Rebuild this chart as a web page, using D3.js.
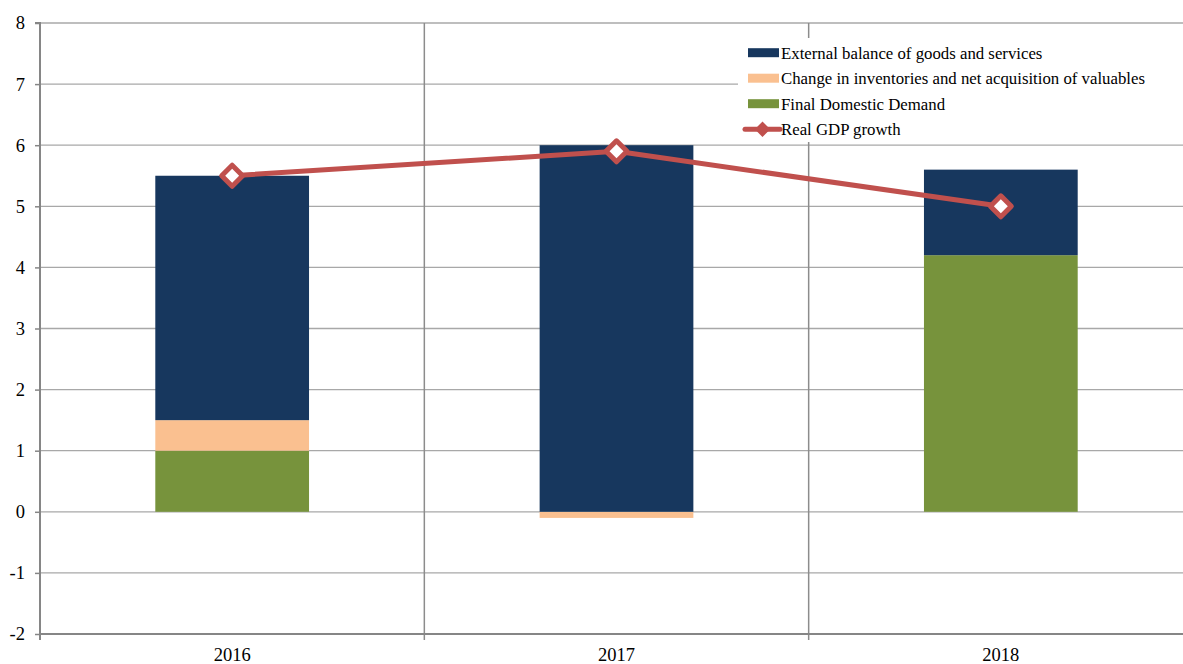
<!DOCTYPE html>
<html>
<head>
<meta charset="utf-8">
<script src="https://cdn.jsdelivr.net/npm/d3@7"></script>
<style>
  html, body { margin: 0; padding: 0; background: #fff; }
  svg { display: block; }
</style>
</head>
<body>
<svg id="chart" width="1183" height="664"></svg>
<script>
// Contributions to real GDP growth, percentage points
const years = ["2016", "2017", "2018"];
const finalDomesticDemand = [1.0, 0.0, 4.2];
const inventories = [0.5, -0.1, 0.0];
const externalBalance = [4.0, 6.0, 1.4];
const gdpGrowth = [5.5, 5.9, 5.0];
const yTicks = [-2, -1, 0, 1, 2, 3, 4, 5, 6, 7, 8];

const seriesNames = ["Final Domestic Demand", "Change in inventories and net acquisition of valuables", "External balance of goods and services"];
const seriesColors = ["#77933C", "#FAC090", "#17375E"];
const lineName = "Real GDP growth";
const lineColor = "#C0504D";
const serif = "'Liberation Serif', 'Times New Roman', Times, serif";

const rows = years.map((yr, i) => ({
  year: yr,
  [seriesNames[0]]: finalDomesticDemand[i],
  [seriesNames[1]]: inventories[i],
  [seriesNames[2]]: externalBalance[i]
}));

const svg = d3.select("#chart");
const plotLeft = 40, plotRight = 1193, plotTop = 23, plotBottom = 634;

const x = d3.scaleBand().domain(years).range([plotLeft, plotRight]).paddingInner(0.6).paddingOuter(0.3);
const y = d3.scaleLinear().domain([-2, 8]).range([plotBottom, plotTop]);

// horizontal gridlines
svg.append("g").selectAll("line").data(yTicks.filter(t => t !== -2)).join("line")
  .attr("x1", plotLeft).attr("x2", 1183)
  .attr("y1", d => y(d)).attr("y2", d => y(d))
  .attr("stroke", "#a8a8a8").attr("stroke-width", 1.3);

// vertical separators between categories
const step = x.step();
const seps = d3.range(1, years.length).map(i => plotLeft + i * step);
svg.append("g").selectAll("line").data(seps).join("line")
  .attr("x1", d => d).attr("x2", d => d)
  .attr("y1", plotTop).attr("y2", plotBottom + 6)
  .attr("stroke", "#8c8c8c").attr("stroke-width", 1.5);

// stacked bars
const stack = d3.stack().keys(seriesNames).offset(d3.stackOffsetDiverging);
const stacked = stack(rows);
svg.append("g").selectAll("g").data(stacked).join("g")
  .attr("fill", (d, i) => seriesColors[i])
  .selectAll("rect").data(d => d).join("rect")
  .attr("x", d => x(d.data.year))
  .attr("width", x.bandwidth())
  .attr("y", d => y(Math.max(d[0], d[1])))
  .attr("height", d => Math.abs(y(d[0]) - y(d[1])));

// y axis
const yAxis = d3.axisLeft(y).tickValues(yTicks).tickSize(5).tickPadding(10).tickFormat(d => String(d));
const gy = svg.append("g").attr("transform", `translate(${plotLeft},0)`).call(yAxis)
  .attr("font-family", serif).attr("font-size", 18.5);
gy.select(".domain").attr("stroke", "#868686").attr("stroke-width", 2).attr("d", `M-5,${plotTop}H0V${plotBottom + 6}`);
gy.selectAll(".tick line").attr("stroke", "#868686").attr("stroke-width", 1.5);
gy.selectAll(".tick text").attr("fill", "#000");

// x axis baseline at the bottom of the plot
svg.append("line").attr("x1", plotLeft).attr("x2", 1183).attr("y1", plotBottom).attr("y2", plotBottom)
  .attr("stroke", "#868686").attr("stroke-width", 2);
svg.append("g").attr("font-family", serif).attr("font-size", 18.5)
  .selectAll("text").data(years).join("text")
  .attr("x", d => x(d) + x.bandwidth() / 2)
  .attr("y", 661)
  .attr("text-anchor", "middle")
  .text(d => d);

// GDP growth line with diamond markers
const cx = d => x(d) + x.bandwidth() / 2;
const line = d3.line().x((d, i) => cx(years[i])).y(d => y(d));
svg.append("path").datum(gdpGrowth).attr("d", line)
  .attr("fill", "none").attr("stroke", lineColor).attr("stroke-width", 5).attr("stroke-linejoin", "round");
const diamond = d3.symbol().type(d3.symbolSquare).size(220);
svg.append("g").selectAll("path").data(gdpGrowth).join("path")
  .attr("d", diamond)
  .attr("transform", (d, i) => `translate(${cx(years[i])},${y(d)}) rotate(45)`)
  .attr("fill", "#fff").attr("stroke", lineColor).attr("stroke-width", 5).attr("stroke-linejoin", "round");

// legend
const legend = svg.append("g").attr("font-family", serif).attr("font-size", 16.8);
legend.append("rect").attr("x", 738).attr("y", 38).attr("width", 445).attr("height", 104).attr("fill", "#fff");
const legendItems = [
  { name: seriesNames[2], color: seriesColors[2] },
  { name: seriesNames[1], color: seriesColors[1] },
  { name: seriesNames[0], color: seriesColors[0] }
];
const rowY = i => 52.7 + i * 25.5;
legendItems.forEach((d, i) => {
  legend.append("rect").attr("x", 748).attr("y", rowY(i) - 4.5).attr("width", 31).attr("height", 9).attr("fill", d.color);
  legend.append("text").attr("x", 781).attr("y", rowY(i) + 5.8).text(d.name);
});
const ly = rowY(3);
legend.append("line").attr("x1", 745).attr("x2", 780).attr("y1", ly).attr("y2", ly)
  .attr("stroke", lineColor).attr("stroke-width", 5).attr("stroke-linecap", "round");
legend.append("path").attr("d", d3.symbol().type(d3.symbolSquare).size(80)())
  .attr("transform", `translate(762.5,${ly}) rotate(45)`)
  .attr("fill", lineColor).attr("stroke", lineColor).attr("stroke-width", 2);
legend.append("text").attr("x", 781).attr("y", ly + 5.8).text(lineName);
</script>
</body>
</html>
